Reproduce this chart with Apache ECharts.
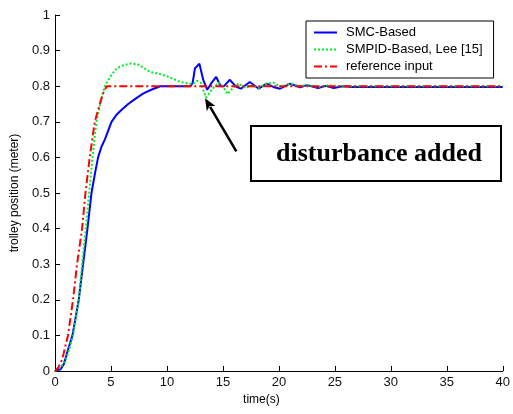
<!DOCTYPE html>
<html>
<head>
<meta charset="utf-8">
<script src="https://cdn.jsdelivr.net/npm/echarts@6/dist/echarts.min.js"></script>
<style>
html,body{margin:0;padding:0;background:#fff;}
#chart{width:513px;height:414px;}
</style>
</head>
<body>
<div id="chart"></div>
<script>
// ---- data ----
var xTicks = [0, 40, 5];
var yTicks = [0, 1, 0.1];
var seriesNames = ['SMC-Based', 'SMPID-Based, Lee [15]', 'reference input'];

var tSMC = [0,0.5,0.8,1.07,1.56,2.12,2.51,2.9,3.26,3.6,3.85,4.15,4.45,5.05,5.5,6.0,6.54,7.2,7.9,8.6,9.4,10,11,12.1,12.3,12.5,12.9,13.25,13.6,14.0,14.4,14.8,15.1,15.6,16.2,16.6,17.4,18.2,18.9,19.5,20.1,21.0,21.9,22.5,23.5,24.2,24.9,25.7,26.5,40];
var vSMC = [0,0.005,0.02,0.05,0.1,0.2,0.3,0.4,0.5,0.56,0.6,0.63,0.65,0.7,0.72,0.735,0.75,0.765,0.78,0.79,0.8,0.8,0.8,0.8,0.81,0.85,0.863,0.817,0.79,0.81,0.826,0.8,0.8,0.818,0.798,0.793,0.812,0.793,0.807,0.798,0.793,0.807,0.797,0.803,0.795,0.801,0.795,0.8,0.798,0.798];

var tPID = [0,0.5,0.9,1.17,1.61,2.12,2.42,2.75,3.05,3.35,3.7,4.1,4.45,5.0,5.5,6.0,6.8,7.5,8.5,9.3,10,11.2,11.8,12.3,12.7,13.0,13.5,14.0,14.6,15.0,15.4,15.9,16.4,17.0,17.6,18.2,18.8,19.5,20.2,21.0,21.8,22.5,23.5,24.5,25.5,27,40];
var vPID = [0,0.01,0.03,0.05,0.1,0.2,0.3,0.4,0.5,0.6,0.7,0.76,0.8,0.83,0.85,0.858,0.864,0.86,0.84,0.835,0.828,0.812,0.808,0.806,0.815,0.81,0.768,0.79,0.81,0.8,0.778,0.795,0.808,0.795,0.802,0.795,0.806,0.81,0.798,0.808,0.8,0.803,0.798,0.802,0.8,0.8,0.8];

var tRef = [0,0.3,0.6,0.78,1.0,1.16,1.61,1.97,2.42,2.72,3.1,3.55,4.0,4.3,4.62,40];
var vRef = [0,0.01,0.03,0.05,0.08,0.1,0.2,0.3,0.4,0.5,0.6,0.7,0.75,0.78,0.8,0.8];

var annotationText = 'disturbance added';
var arrowTip = [13.4, 0.766];
var arrowTail = [16.2, 0.617];

function pairs(t, v) { return t.map(function (x, i) { return [x, v[i]]; }); }

var FONT = "'Liberation Sans', Arial, sans-serif";
var chart = echarts.init(document.getElementById('chart'), null, {renderer: 'canvas'});

var axisCommon = {
  axisLine: {lineStyle: {color: '#000', width: 1}},
  axisTick: {inside: true, length: 5, lineStyle: {color: '#000'}},
  axisLabel: {color: '#111', fontSize: 13, fontFamily: FONT, margin: 5},
  splitLine: {show: false}
};

chart.setOption({
  animation: false,
  backgroundColor: '#fff',
  grid: {left: 55, right: 8, top: 15, bottom: 43},
  xAxis: Object.assign({
    type: 'value', min: xTicks[0], max: xTicks[1], interval: xTicks[2],
    name: 'time(s)', nameLocation: 'middle', nameGap: 17,
    nameTextStyle: {color: '#000', fontSize: 12, fontFamily: FONT, padding: [0, 35, 0, 0]}
  }, axisCommon),
  yAxis: Object.assign({
    type: 'value', min: yTicks[0], max: yTicks[1], interval: yTicks[2],
    name: 'trolley position (meter)', nameLocation: 'middle', nameGap: 33,
    nameTextStyle: {color: '#000', fontSize: 12, fontFamily: FONT}
  }, axisCommon),
  legend: {
    orient: 'vertical', left: 306, top: 21,
    padding: [5, 11, 5, 7], itemGap: 4, itemWidth: 23, itemHeight: 12,
    borderColor: '#000', borderWidth: 1, backgroundColor: '#fff',
    itemStyle: {opacity: 0},
    textStyle: {color: '#000', fontSize: 13, fontFamily: FONT, padding: [0, 0, 0, 4]},
    data: seriesNames
  },
  series: [
    {name: seriesNames[0], type: 'line', data: pairs(tSMC, vSMC), symbol: 'none', z: 2,
     itemStyle: {color: '#0000ff'}, lineStyle: {color: '#0000ff', width: 2}},
    {name: seriesNames[1], type: 'line', data: pairs(tPID, vPID), symbol: 'none', z: 3,
     itemStyle: {color: '#00ee22'}, lineStyle: {color: '#00ee22', width: 2, type: [2, 2]}},
    {name: seriesNames[2], type: 'line', data: pairs(tRef, vRef), symbol: 'none', z: 4,
     itemStyle: {color: '#ff0000'}, lineStyle: {color: '#ff0000', width: 2, type: [8, 3, 2, 3]}}
  ]
});

var tip = chart.convertToPixel({gridIndex: 0}, arrowTip);
var tail = chart.convertToPixel({gridIndex: 0}, arrowTail);
var dx = tip[0] - tail[0], dy = tip[1] - tail[1];
var len = Math.sqrt(dx * dx + dy * dy), ux = dx / len, uy = dy / len;
var hl = 12, hw = 5;
var bx = tip[0] - ux * hl, by = tip[1] - uy * hl;
chart.setOption({
  graphic: [
    {type: 'line', z: 100, shape: {x1: tail[0], y1: tail[1], x2: bx + ux * 2, y2: by + uy * 2},
     style: {stroke: '#000', lineWidth: 2.5}},
    {type: 'polygon', z: 100, shape: {points: [[tip[0], tip[1]], [bx - uy * hw, by + ux * hw], [bx + ux * 3, by + uy * 3], [bx + uy * hw, by - ux * hw]]},
     style: {fill: '#000'}},
    {type: 'rect', z: 100, shape: {x: 251, y: 126, width: 250, height: 55},
     style: {fill: '#fff', stroke: '#000', lineWidth: 2}},
    {type: 'text', z: 101, x: 379, y: 154,
     style: {text: annotationText, fill: '#000', font: "bold 26px 'Liberation Serif', 'Times New Roman', serif", align: 'center', verticalAlign: 'middle'}}
  ]
});
</script>
</body>
</html>
